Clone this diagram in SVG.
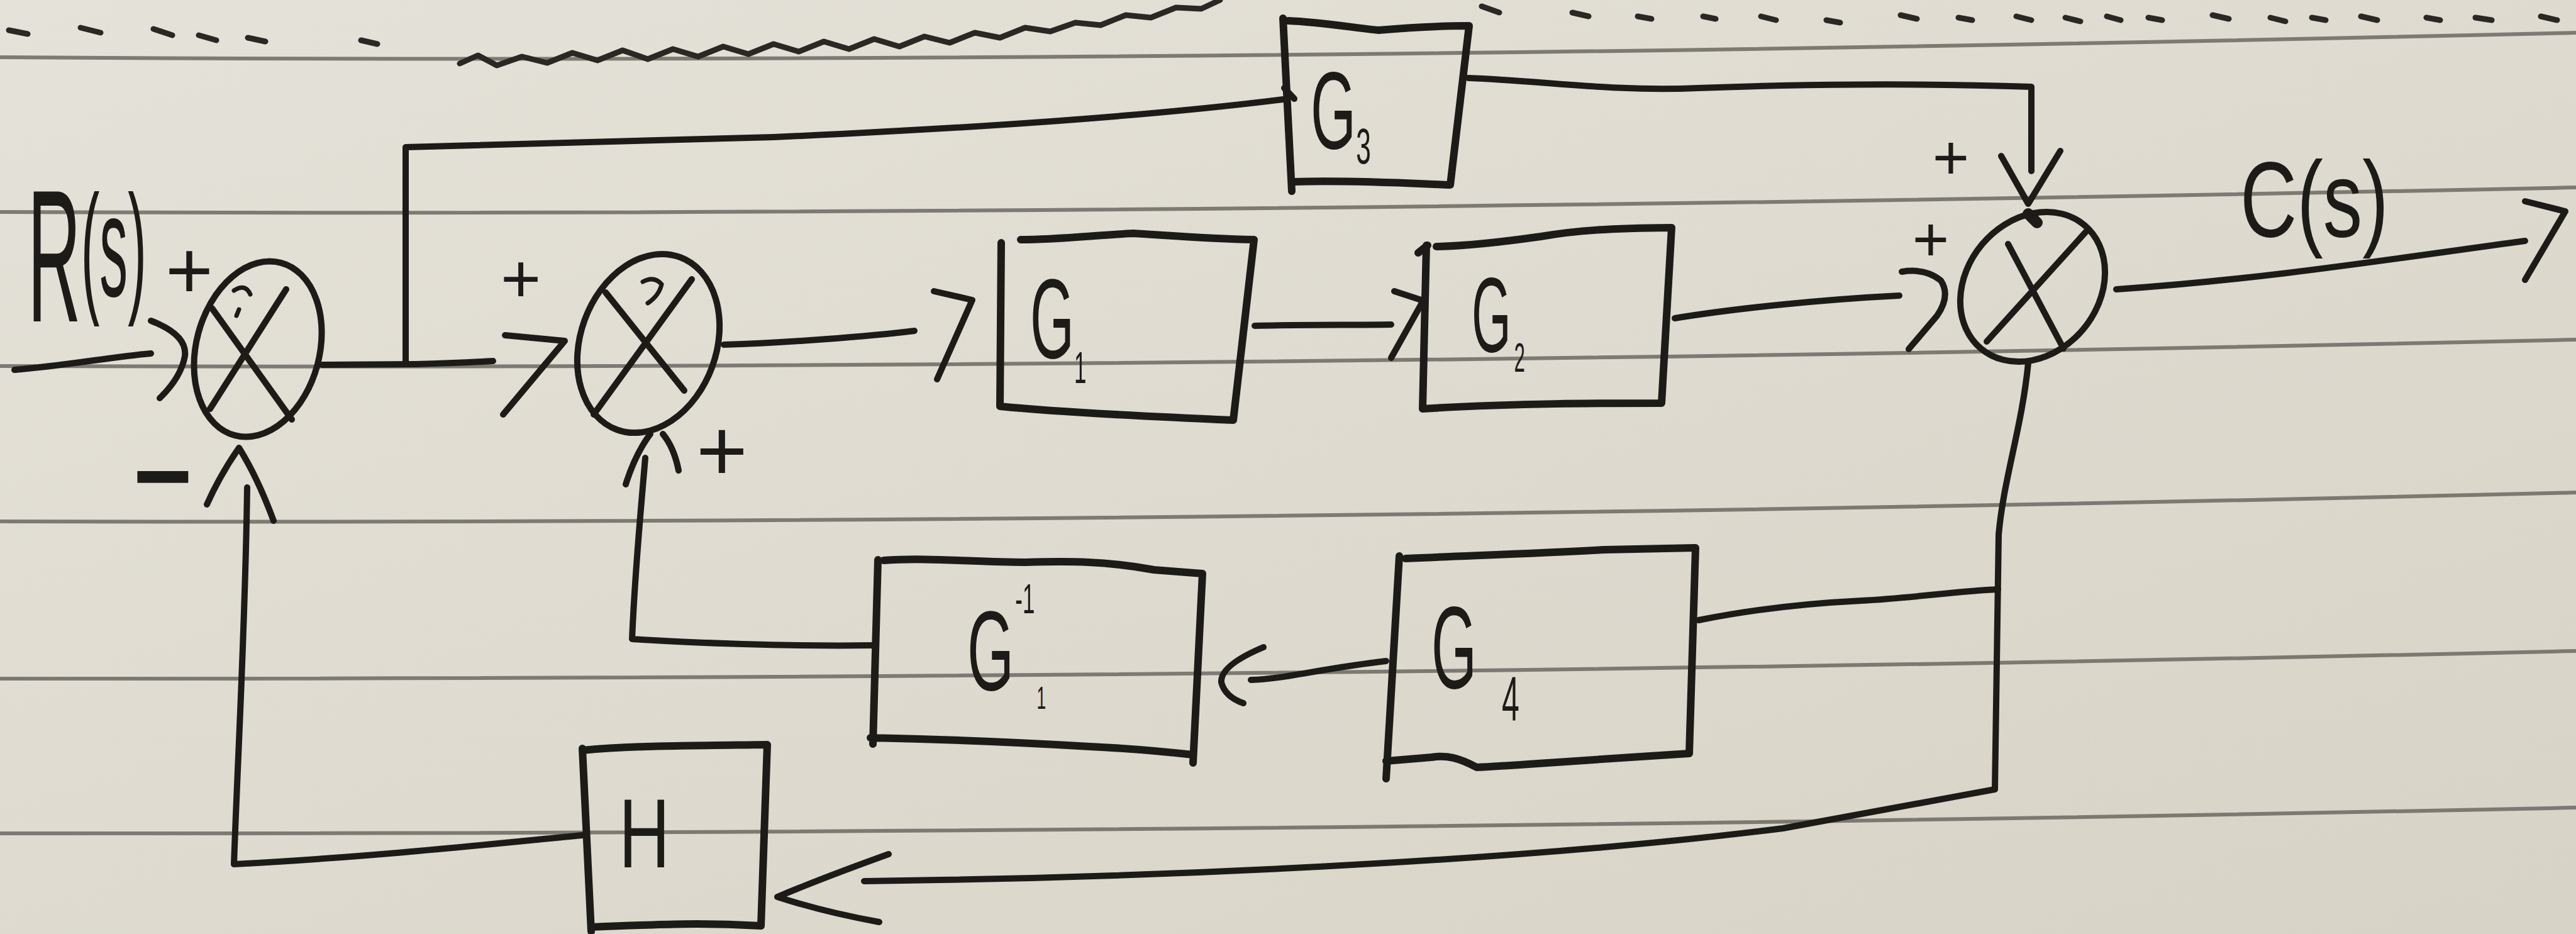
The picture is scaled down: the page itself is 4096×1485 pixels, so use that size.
<svg xmlns="http://www.w3.org/2000/svg" width="4096" height="1485" viewBox="0 0 4096 1485">
<defs>
<linearGradient id="paper" x1="0" y1="0" x2="1" y2="1">
<stop offset="0" stop-color="#e5e2d9"/>
<stop offset="1" stop-color="#d7d3c6"/>
</linearGradient>
<style>
.rule{fill:none;stroke:#6b6862;stroke-width:6;opacity:.85}
.ink{fill:none;stroke:#1d1b18;stroke-width:10;stroke-linecap:round;stroke-linejoin:round}
.box{fill:none;stroke:#1d1b18;stroke-width:12;stroke-linecap:round;stroke-linejoin:round}
.thin{fill:none;stroke:#1d1b18;stroke-width:7;stroke-linecap:round}
.lbl{font-family:"Liberation Sans",Arial,sans-serif;fill:#1d1b18}
.sign{font-family:"Liberation Sans",Arial,sans-serif;fill:#1d1b18;text-anchor:middle}
.tear{fill:none;stroke:#2a2824;stroke-width:9;stroke-linecap:round;stroke-linejoin:round}
</style>
</defs>
<rect width="4096" height="1485" fill="url(#paper)"/>
<g id="paper-rules">
<path class="rule" d="M0,91 C1200,99 2600,88 4096,52"/>
<path class="rule" d="M0,337 C1200,342 2600,330 4096,298"/>
<path class="rule" d="M0,582 C1200,586 2600,574 4096,540"/>
<path class="rule" d="M0,829 C1200,832 2600,820 4096,783"/>
<path class="rule" d="M0,1079 C1200,1080 2600,1070 4096,1035"/>
<path class="rule" d="M0,1325 C1200,1326 2600,1316 4096,1284"/>
</g>
<g id="torn-edge" class="tear">
<path d="M14,48 l30,6 M128,44 l32,8 M244,46 l30,10 M316,56 l28,8 M394,60 l28,6 M574,64 l26,6"/>
<path d="M731,101 L760,88 L790,104 L830,90 L870,100 L910,84 L950,96 L990,80 L1030,94 L1070,78 L1110,90 L1150,74 L1190,86 L1230,70 L1270,82 L1310,66 L1350,78 L1390,62 L1430,74 L1470,58 L1510,68 L1550,52 L1590,60 L1630,44 L1670,50 L1710,36 L1750,40 L1790,24 L1830,28 L1870,12 L1910,14 L1940,0"/>
<path d="M2356,10 l28,10 M2500,20 l26,6 M2604,26 l22,4 M2708,26 l20,4 M2800,26 l24,6 M2904,32 l22,4 M3022,24 l26,6 M3114,28 l22,4 M3206,26 l24,6 M3284,28 l24,6 M3350,26 l22,6 M3416,28 l22,4 M3518,24 l26,6 M3610,28 l24,6 M3676,28 l22,4 M3754,26 l26,6 M3858,28 l22,4 M3936,28 l26,4 M4040,26 l26,6"/>
</g>
<g id="connectors" class="ink">
<path d="M23,588 C100,582 180,567 240,562"/>
<path d="M240,510 Q298,532 294,566 Q288,600 254,633"/>
<path d="M512,580 L660,579 C700,578 750,576 784,574"/>
<path d="M803,533 L898,542 L800,659"/>
<path d="M645,579 L645,234 C800,230 1000,226 1230,218 C1500,206 1800,188 2040,158"/>
<path d="M2042,140 L2058,157"/>
<path d="M1151,548 C1250,545 1380,535 1454,526"/>
<path d="M1485,463 L1546,477 L1490,603"/>
<path d="M1995,518 C2080,516 2150,517 2212,516"/>
<path d="M2217,463 L2263,478 L2212,569"/>
<path d="M2663,506 C2760,490 2900,476 3020,470"/>
<path d="M3024,432 Q3062,426 3086,446 Q3102,470 3080,502 L3035,555"/>
<path d="M2335,124 C2450,128 2560,146 2700,140 C2850,134 3050,132 3230,138 L3230,272"/>
<path d="M3182,248 L3225,324 L3276,240"/>
<path d="M3365,460 C3600,444 3800,412 4015,383"/>
<path d="M4015,320 L4079,336 L4015,445"/>
<path d="M3225,577 C3215,680 3186,760 3178,850 L3172,1255"/>
<path d="M2701,986 C2800,966 2900,958 2960,955 C3050,950 3110,940 3177,937"/>
<path d="M3172,1255 L2835,1317 C2400,1372 1800,1396 1374,1401"/>
<path d="M1413,1358 Q1310,1395 1236,1426 Q1310,1450 1398,1466"/>
<path d="M926,1328 C800,1340 600,1362 372,1374 C378,1200 390,1000 393,775"/>
<path d="M329,802 Q350,755 380,712 Q410,760 435,828"/>
<path d="M2204,1051 C2100,1063 2040,1080 1989,1081"/>
<path d="M2009,1029 Q1940,1058 1942,1085 Q1948,1108 1977,1118"/>
<path d="M1390,1026 C1250,1028 1100,1022 1005,1016 C1010,900 1020,800 1026,728"/>
<path d="M995,770 Q1010,722 1034,690 M1054,690 Q1072,712 1079,748"/>
</g>
<g id="label-R">
<text class="lbl" transform="translate(44,511) scale(0.39,1)" font-size="300">R<tspan font-size="230" dy="-40">(s)</tspan></text>
</g>
<g id="label-C">
<text class="lbl" transform="translate(3562,376) scale(0.735,1)" font-size="170">C(s)</text>
</g>
<g id="sum1">
<ellipse class="ink" cx="410" cy="555" rx="98" ry="142" transform="rotate(15 410 555)"/>
<path class="ink" d="M337,490 L464,667 M455,460 L334,650"/>
<path class="thin" d="M372,462 Q390,450 398,468 M380,492 l-4,10"/>
<text class="sign" x="301" y="474" font-size="130">+</text>
<text class="sign" x="259" y="808" font-size="150" style="stroke:#1d1b18;stroke-width:8">−</text>
</g>
<g id="sum2">
<ellipse class="ink" cx="1031" cy="546" rx="108" ry="146" transform="rotate(20 1031 546)"/>
<path class="ink" d="M963,465 L1088,621 M1100,444 L944,659"/>
<path class="thin" d="M1022,448 Q1040,438 1052,452 Q1048,470 1030,482"/>
<text class="sign" x="828" y="481" font-size="110">+</text>
<text class="sign" x="1148" y="764" font-size="140">+</text>
</g>
<g id="sum3">
<ellipse class="ink" cx="3232" cy="456" rx="105" ry="128" transform="rotate(40 3232 456)"/>
<path class="ink" d="M3193,388 L3281,554 M3319,366 L3159,543"/>
<path d="M3225,340 l14,14" stroke="#1d1b18" stroke-width="18" stroke-linecap="round"/>
<text class="sign" x="3102" y="285" font-size="100">+</text>
<text class="sign" x="3070" y="415" font-size="100">+</text>
</g>
<g id="G1">
<path class="box" d="M1592,386 L1590,646 C1690,656 1843,663 1961,668 L1994,381 C1930,380 1880,376 1802,371 C1741,374 1680,381 1623,381"/>
<text class="lbl" transform="translate(1638,569) scale(0.5,1)" font-size="180">G<tspan font-size="70" dy="40">1</tspan></text>
</g>
<g id="G2">
<path class="box" d="M2268,390 L2262,650 C2407,641 2550,641 2642,641 L2658,362 C2560,363 2509,366 2450,376 C2380,386 2330,391 2284,392 M2255,402 L2270,390"/>
<text class="lbl" transform="translate(2340,559) scale(0.48,1)" font-size="168">G<tspan font-size="65" dx="10" dy="32">2</tspan></text>
</g>
<g id="G3">
<path class="box" d="M2040,29 L2054,304 M2048,33 C2100,35 2150,44 2192,48 C2240,44 2290,41 2336,41 L2306,294 C2250,292 2150,286 2058,289"/>
<text class="lbl" transform="translate(2084,236) scale(0.53,1)" font-size="175">G<tspan font-size="80" dy="24">3</tspan></text>
</g>
<g id="G1inv">
<path class="box" d="M1396,890 L1388,1183 M1405,891 C1477,886 1550,894 1630,894 C1700,892 1760,892 1835,906 L1912,912 L1897,1213 M1384,1173 C1528,1176 1630,1181 1733,1187 C1800,1190 1860,1196 1897,1200"/>
<text class="lbl" transform="translate(1538,1097) scale(0.53,1)" font-size="180">G<tspan font-size="66" dx="4" dy="-122">-1</tspan><tspan font-size="50" dx="6" dy="152">1</tspan></text>
</g>
<g id="G4">
<path class="box" d="M2225,884 L2204,1238 M2235,888 C2348,883 2450,880 2552,874 L2696,871 L2686,1198 C2450,1213 2400,1218 2348,1220 C2320,1205 2300,1200 2276,1204 L2204,1210"/>
<text class="lbl" transform="translate(2276,1094) scale(0.5,1)" font-size="185">G<tspan font-size="100" dx="80" dy="52">4</tspan></text>
</g>
<g id="H">
<path class="box" d="M926,1190 L940,1481 M926,1193 C1000,1186 1061,1186 1220,1184 L1210,1472 C1120,1467 1061,1469 940,1474"/>
<text class="lbl" transform="translate(984,1379) scale(0.72,1)" font-size="156">H</text>
</g>
</svg>
